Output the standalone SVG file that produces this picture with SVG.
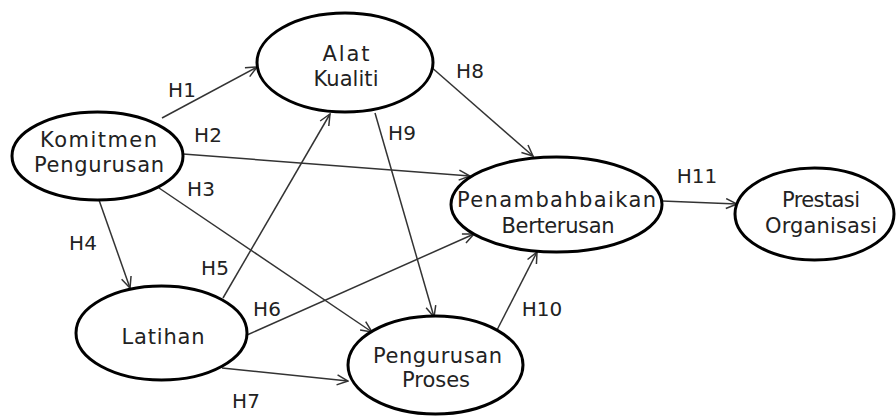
<svg xmlns="http://www.w3.org/2000/svg" width="896" height="417" viewBox="0 0 896 417">
<style>
.node ellipse{fill:#fff;stroke:#000;stroke-width:3}
.node text{font-family:"DejaVu Sans",sans-serif;font-size:21px;fill:#222;text-anchor:middle}
.edge line{stroke:#333;stroke-width:1.5;fill:none;marker-end:url(#arr)}
.lbl{font-family:"DejaVu Sans",sans-serif;font-size:20px;fill:#222;text-anchor:middle}
</style>
<defs>
<marker id="arr" viewBox="0 0 13 12" refX="12" refY="6" markerWidth="13" markerHeight="12" markerUnits="userSpaceOnUse" orient="auto">
<path d="M1,1 L12,6 L1,11" fill="none" stroke="#333" stroke-width="1.5"/>
</marker>
</defs>
<rect width="896" height="417" fill="#fff"/>
<g id="connectors" class="edge">
<line x1="162" y1="118" x2="257" y2="67"/>
<line x1="183" y1="154" x2="470" y2="176"/>
<line x1="159" y1="188" x2="372" y2="332"/>
<line x1="99" y1="200" x2="130" y2="288"/>
<line x1="223" y1="298" x2="330" y2="114"/>
<line x1="247" y1="335" x2="474" y2="234"/>
<line x1="222" y1="368" x2="348" y2="381"/>
<line x1="430" y1="66" x2="533" y2="156"/>
<line x1="375" y1="113" x2="434" y2="317"/>
<line x1="497" y1="330" x2="537" y2="252"/>
<line x1="662" y1="201" x2="737" y2="204"/>
</g>
<g id="edge-labels">
<text class="lbl" x="182" y="97">H1</text>
<text class="lbl" x="208" y="142">H2</text>
<text class="lbl" x="201" y="196">H3</text>
<text class="lbl" x="83" y="250">H4</text>
<text class="lbl" x="215" y="275">H5</text>
<text class="lbl" x="267" y="316">H6</text>
<text class="lbl" x="246" y="408">H7</text>
<text class="lbl" x="470" y="78">H8</text>
<text class="lbl" x="402" y="140">H9</text>
<text class="lbl" x="542" y="316">H10</text>
<text class="lbl" x="697" y="183">H11</text>
</g>
<g id="alat-kualiti" class="node">
<ellipse cx="345" cy="62.5" rx="88" ry="49.5"/>
<text x="346" y="61" textLength="47">Alat</text>
<text x="346" y="86" textLength="65">Kualiti</text>
</g>
<g id="komitmen-pengurusan" class="node">
<ellipse cx="97.5" cy="156" rx="85.5" ry="44"/>
<text x="98.5" y="147" textLength="117">Komitmen</text>
<text x="99" y="172" textLength="130">Pengurusan</text>
</g>
<g id="latihan" class="node">
<ellipse cx="161.5" cy="333" rx="85.5" ry="47"/>
<text x="163" y="344" textLength="83">Latihan</text>
</g>
<g id="penambahbaikan-berterusan" class="node">
<ellipse cx="556.5" cy="204.5" rx="105.5" ry="47.5"/>
<text x="556.5" y="207" textLength="199">Penambahbaikan</text>
<text x="558" y="233" textLength="113">Berterusan</text>
</g>
<g id="pengurusan-proses" class="node">
<ellipse cx="435.5" cy="365" rx="87.5" ry="49"/>
<text x="437.5" y="363" textLength="129">Pengurusan</text>
<text x="436" y="387" textLength="68">Proses</text>
</g>
<g id="prestasi-organisasi" class="node">
<ellipse cx="814.5" cy="214" rx="79.5" ry="46"/>
<text x="821" y="207" textLength="78">Prestasi</text>
<text x="821" y="233" textLength="112">Organisasi</text>
</g>
</svg>
